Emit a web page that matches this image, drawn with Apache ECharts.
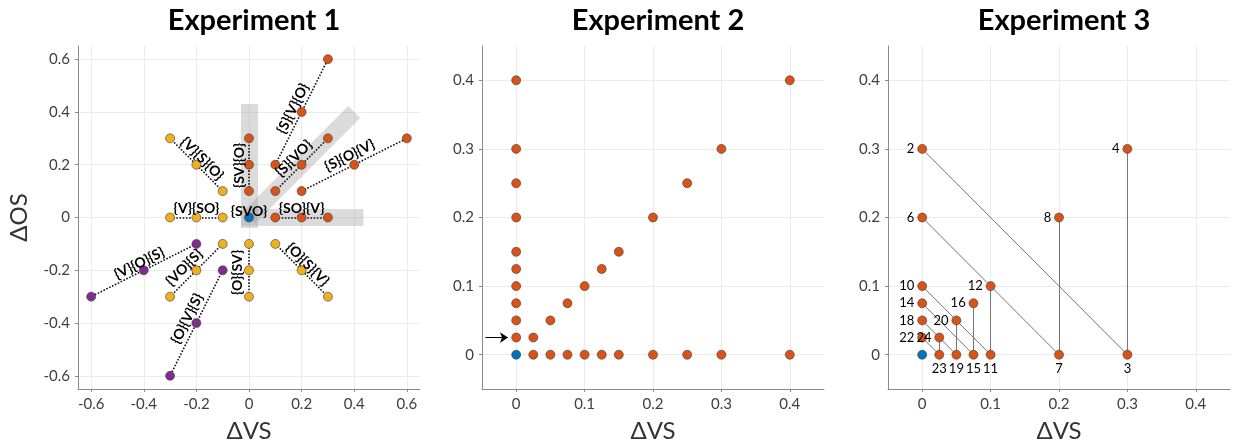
<!DOCTYPE html>
<html>
<head>
<meta charset="utf-8">
<script src="https://cdn.jsdelivr.net/npm/echarts@6/dist/echarts.min.js"></script>
<style>
  html, body { margin: 0; padding: 0; background: #fff; }
  #chart { width: 1233px; height: 443px; }
</style>
</head>
<body>
<div id="chart"></div>
<script>
// ---- Experiment 1 ----
const exp1Origin = [[0, 0]]
const exp1Labels = [
  '{SO}{V}', '{SV}{O}', '{S}{VO}', '{S}{V}{O}', '{S}{O}{V}',
  '{V}{SO}', '{V}{S}{O}', '{VO}{S}', '{O}{SV}', '{O}{S}{V}',
  '{V}{O}{S}', '{O}{V}{S}'
]
// three points per structure
const exp1Groups = [
  [[0.1, 0], [0.2, 0], [0.3, 0]],
  [[0, 0.1], [0, 0.2], [0, 0.3]],
  [[0.1, 0.1], [0.2, 0.2], [0.3, 0.3]],
  [[0.1, 0.2], [0.2, 0.4], [0.3, 0.6]],
  [[0.2, 0.1], [0.4, 0.2], [0.6, 0.3]],
  [[-0.1, 0], [-0.2, 0], [-0.3, 0]],
  [[-0.1, 0.1], [-0.2, 0.2], [-0.3, 0.3]],
  [[-0.1, -0.1], [-0.2, -0.2], [-0.3, -0.3]],
  [[0, -0.1], [0, -0.2], [0, -0.3]],
  [[0.1, -0.1], [0.2, -0.2], [0.3, -0.3]],
  [[-0.2, -0.1], [-0.4, -0.2], [-0.6, -0.3]],
  [[-0.1, -0.2], [-0.2, -0.4], [-0.3, -0.6]]
]
// 0 = subject first, 1 = verb first, 2 = object before subject
const exp1Class = [0, 0, 0, 0, 0, 1, 1, 1, 1, 1, 2, 2]
const exp1Bands = [
  [[0, -0.04], [0, 0.43]],
  [[-0.03, 0], [0.435, 0]],
  [[0, 0], [0.4, 0.4]]
]
const exp1Ticks = [-0.6, -0.4, -0.2, 0, 0.2, 0.4, 0.6]

// ---- Experiment 2 ----
const exp2Origin = [[0, 0]]
const exp2ColumnY = [0.025, 0.05, 0.075, 0.1, 0.125, 0.15, 0.2, 0.25, 0.3, 0.4]
const exp2RowX = [0.025, 0.05, 0.075, 0.1, 0.125, 0.15, 0.2, 0.25, 0.3, 0.4]
const exp2Diagonal = [0.025, 0.05, 0.075, 0.1, 0.125, 0.15, 0.2, 0.25, 0.3, 0.4]
const exp2Arrow = [[-0.045, 0.025], [-0.012, 0.025]]

// ---- Experiment 3 ----
const exp3Origin = [[0, 0]]
const exp3Ids = [2, 3, 4, 6, 7, 8, 10, 11, 12, 14, 15, 16, 18, 19, 20, 22, 23, 24]
const exp3Points = [
  [0, 0.3], [0.3, 0], [0.3, 0.3],
  [0, 0.2], [0.2, 0], [0.2, 0.2],
  [0, 0.1], [0.1, 0], [0.1, 0.1],
  [0, 0.075], [0.075, 0], [0.075, 0.075],
  [0, 0.05], [0.05, 0], [0.05, 0.05],
  [0, 0.025], [0.025, 0], [0.025, 0.025]
]
const exp3Links = [[2, 3], [4, 3], [6, 7], [8, 7], [10, 11], [12, 11],
  [14, 15], [16, 15], [18, 19], [20, 19], [22, 23], [24, 23]]
const exp23Ticks = [0, 0.1, 0.2, 0.3, 0.4]

// label placement for experiment 1 (data coords, rotation in degrees)
const exp1LabelSpots = [
  [0.2, 0.034, 0], [-0.038, 0.197, 90], [0.17, 0.224, 45], [0.167, 0.413, 63.4],
  [0.383, 0.235, 26.6], [-0.2, 0.034, 0], [-0.178, 0.223, -45], [-0.246, -0.19, 45],
  [-0.042, -0.208, 90], [0.223, -0.178, -45], [-0.417, -0.174, 26.6], [-0.235, -0.383, 63.4]
]

const FONT = 'Lato, "Open Sans", sans-serif'
const classColors = ['#D95319', '#EDB120', '#7E2F8E']
const blue = '#0072BD'

const chart = echarts.init(document.getElementById('chart'))

const xAxis = (i, min, max, ticks) => ({
  gridIndex: i, type: 'value', min, max,
  name: 'ΔVS', nameLocation: 'middle', nameGap: 30,
  nameTextStyle: { fontSize: 24, color: '#333', fontFamily: FONT },
  axisLine: { show: true, onZero: false, lineStyle: { color: '#8a8a8a' } },
  axisTick: { show: true, length: 3, customValues: ticks, lineStyle: { color: '#8a8a8a' } },
  axisLabel: { customValues: ticks, fontSize: 15, color: '#404040', margin: 8, fontFamily: FONT },
  splitLine: { show: true, lineStyle: { color: '#ebebeb' } }
})
const yAxis = (i, min, max, ticks, name) => ({
  gridIndex: i, type: 'value', min, max,
  name: name || '', nameLocation: 'middle', nameGap: 47,
  nameTextStyle: { fontSize: 24, color: '#333', fontFamily: FONT },
  axisLine: { show: true, onZero: false, lineStyle: { color: '#8a8a8a' } },
  axisTick: { show: true, length: 3, customValues: ticks, lineStyle: { color: '#8a8a8a' } },
  axisLabel: { customValues: ticks, fontSize: 15, color: '#404040', margin: 8, fontFamily: FONT },
  splitLine: { show: true, lineStyle: { color: '#ebebeb' } }
})

const dot = (i, data, color, extra) => Object.assign({
  type: 'scatter', xAxisIndex: i, yAxisIndex: i, data,
  symbolSize: 9, z: 5,
  itemStyle: { color, borderColor: '#3a3a3a', borderWidth: 0.6, opacity: 1 },
  emphasis: { disabled: true }
}, extra || {})

const series = []

// exp 1 grey bands
series.push({
  type: 'lines', coordinateSystem: 'cartesian2d', xAxisIndex: 0, yAxisIndex: 0, z: 1,
  silent: true,
  lineStyle: { color: 'rgba(160,160,160,0.38)', width: 17, cap: 'butt', opacity: 1 },
  data: exp1Bands.map(b => ({ coords: b }))
})
// exp 1 dotted connectors
series.push({
  type: 'lines', coordinateSystem: 'cartesian2d', xAxisIndex: 0, yAxisIndex: 0, z: 2,
  silent: true,
  lineStyle: { color: '#111', width: 1.6, type: [1.6, 1.6], opacity: 1 },
  data: exp1Groups.map(g => ({ coords: [g[0], g[2]] }))
})
classColors.forEach((c, k) => {
  const pts = []
  exp1Groups.forEach((g, j) => { if (exp1Class[j] === k) pts.push(...g) })
  series.push(dot(0, pts, c))
})
series.push(dot(0, exp1Origin, blue))
// exp 1 labels
series.push({
  type: 'scatter', xAxisIndex: 0, yAxisIndex: 0, symbolSize: 0, z: 6, silent: true,
  itemStyle: { opacity: 1, color: '#000' },
  data: exp1Labels.map((t, j) => ({
    name: t, value: [exp1LabelSpots[j][0], exp1LabelSpots[j][1]],
    label: { rotate: exp1LabelSpots[j][2] }
  })).concat([{ name: '{SVO}', value: [0, 0.022], label: { rotate: 0 } }]),
  label: {
    show: true, position: [0, 0], align: 'center', verticalAlign: 'middle',
    formatter: p => p.name, color: '#000', fontWeight: 'bold', fontSize: 14, fontFamily: FONT,
    textBorderWidth: 0, opacity: 1
  }
})

// exp 2
series.push(dot(1,
  exp2ColumnY.map(v => [0, v])
    .concat(exp2RowX.map(v => [v, 0]))
    .concat(exp2Diagonal.map(v => [v, v])), classColors[0]))
series.push(dot(1, exp2Origin, blue))
series.push({
  type: 'lines', coordinateSystem: 'cartesian2d', xAxisIndex: 1, yAxisIndex: 1, z: 4, silent: true,
  symbol: ['none', 'arrow'], symbolSize: 8,
  lineStyle: { color: '#000', width: 1, opacity: 1 },
  data: [{ coords: exp2Arrow }]
})

// exp 3
const idPoint = id => exp3Points[exp3Ids.indexOf(id)]
series.push({
  type: 'lines', coordinateSystem: 'cartesian2d', xAxisIndex: 2, yAxisIndex: 2, z: 2, silent: true,
  lineStyle: { color: '#777', width: 1, opacity: 1 },
  data: exp3Links.map(l => ({ coords: [idPoint(l[0]), idPoint(l[1])] }))
})
series.push(dot(2, exp3Ids.map((id, j) => ({
  name: String(id), value: exp3Points[j],
  label: { position: id % 2 ? 'bottom' : 'left' }
})), classColors[0], {
  label: {
    show: true, formatter: p => p.name, color: '#000', fontSize: 13, distance: 3, fontFamily: FONT,
    textBorderWidth: 0
  }
}))
series.push(dot(2, exp3Origin, blue))

const titleStyle = { fontFamily: FONT, fontWeight: 'bold', fontSize: 29, color: '#000' }

chart.setOption({
  animation: false,
  backgroundColor: '#fff',
  title: [
    { text: 'Experiment 1', left: 249, top: 1, textAlign: 'center', textStyle: titleStyle },
    { text: 'Experiment 2', left: 653, top: 1, textAlign: 'center', textStyle: titleStyle },
    { text: 'Experiment 3', left: 1059, top: 1, textAlign: 'center', textStyle: titleStyle }
  ],
  grid: [
    { left: 78, top: 46, width: 342, height: 343, outerBoundsMode: 'none', containLabel: false },
    { left: 482, top: 46, width: 342, height: 343, outerBoundsMode: 'none', containLabel: false },
    { left: 888, top: 46, width: 342, height: 343, outerBoundsMode: 'none', containLabel: false }
  ],
  xAxis: [
    xAxis(0, -0.65, 0.65, exp1Ticks),
    xAxis(1, -0.05, 0.45, exp23Ticks),
    xAxis(2, -0.05, 0.45, exp23Ticks)
  ],
  yAxis: [
    yAxis(0, -0.65, 0.65, exp1Ticks, 'ΔOS'),
    yAxis(1, -0.05, 0.45, exp23Ticks),
    yAxis(2, -0.05, 0.45, exp23Ticks)
  ],
  series
})

window.addEventListener('resize', () => chart && chart.resize())
</script>
</body>
</html>
